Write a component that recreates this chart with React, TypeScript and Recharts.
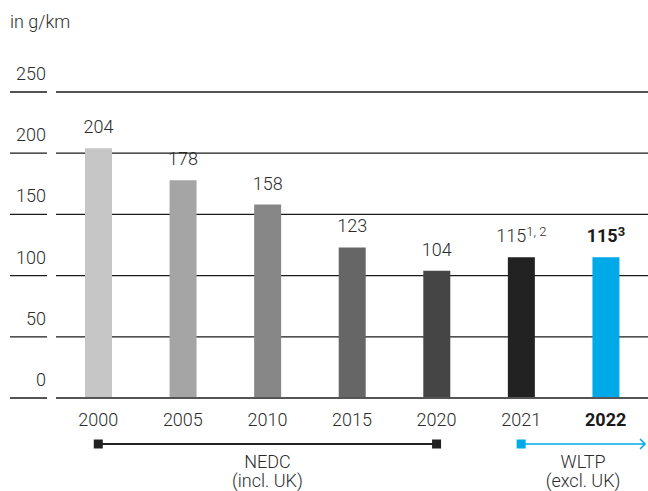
import { BarChart, Bar, XAxis, YAxis, CartesianGrid, Cell, LabelList, ReferenceLine } from 'recharts';

const years = ['2000', '2005', '2010', '2015', '2020', '2021', '2022'];
const values = [204, 178, 158, 123, 104, 115, 115];
const notes = ['', '', '', '', '', '1, 2', '3'];
const barColors = ['#c6c6c6', '#a5a5a5', '#878787', '#666666', '#454545', '#222222', '#00a9e8'];
const yTicks = [0, 50, 100, 150, 200, 250];

const data = years.map((year, i) => ({ year, value: values[i], note: notes[i] }));

const W = 648;
const H = 491;
const FONT = 'Roboto, "Noto Sans", sans-serif';
const TEXT = '#2b2b2b';
const FS = 18;
const LIGHT = 300;

const YTick = ({ y, payload }: any) => (
  <g>
    <line x1={10} x2={47} y1={y} y2={y} stroke={payload.value === 0 ? '#555' : '#1a1a1a'} strokeWidth={payload.value === 0 ? 2 : 1.3} />
    <text x={46} y={y - 12} textAnchor="end" fontSize={FS} fill={TEXT} fontWeight={LIGHT} fontFamily={FONT}>{payload.value}</text>
  </g>
);

const XTick = ({ x, y, payload }: any) => (
  <text x={x} y={y + 20} textAnchor="middle" fontSize={FS} fill={payload.value === '2022' ? '#1a1a1a' : TEXT}
    fontWeight={payload.value === '2022' ? 700 : LIGHT} fontFamily={FONT}>
    {payload.value}
  </text>
);

const ValueLabel = ({ x, y, width, value, index }: any) => {
  const note = notes[index];
  const bold = years[index] === '2022';
  return (
    <text x={x + width / 2} y={y - 15} textAnchor="middle" fontSize={FS} fill={bold ? '#1a1a1a' : TEXT}
      fontWeight={bold ? 700 : LIGHT} fontFamily={FONT}>
      {value}
      {note && <tspan fontSize={13} dy={-6}>{note}</tspan>}
    </text>
  );
};

const NedcBracket = ({ x1, x2, y1 }: any) => {
  const ly = y1 + 46;
  const mid = (x1 + x2) / 2;
  return (
    <g>
      <line x1={x1} x2={x2} y1={ly} y2={ly} stroke="#222" strokeWidth={2} />
      <rect x={x1 - 4.5} y={ly - 4.5} width={9} height={9} fill="#222" />
      <rect x={x2 - 4.5} y={ly - 4.5} width={9} height={9} fill="#222" />
      <text x={mid} y={ly + 24} textAnchor="middle" fontSize={FS} fill={TEXT} fontWeight={LIGHT} fontFamily={FONT}>NEDC</text>
      <text x={mid} y={ly + 43} textAnchor="middle" fontSize={FS} fill={TEXT} fontWeight={LIGHT} fontFamily={FONT}>(incl. UK)</text>
    </g>
  );
};

const WltpArrow = ({ x1, y1 }: any) => {
  const ly = y1 + 46;
  const end = W - 3;
  const mid = (x1 + end) / 2;
  return (
    <g>
      <line x1={x1} x2={end} y1={ly} y2={ly} stroke="#00a9e8" strokeWidth={1.5} />
      <polyline points={`${end - 5},${ly - 5} ${end},${ly} ${end - 5},${ly + 5}`} fill="none" stroke="#00a9e8" strokeWidth={1.5} />
      <rect x={x1 - 4.5} y={ly - 4.5} width={9} height={9} fill="#00a9e8" />
      <text x={mid} y={ly + 24} textAnchor="middle" fontSize={FS} fill={TEXT} fontWeight={LIGHT} fontFamily={FONT}>WLTP</text>
      <text x={mid} y={ly + 43} textAnchor="middle" fontSize={FS} fill={TEXT} fontWeight={LIGHT} fontFamily={FONT}>(excl. UK)</text>
    </g>
  );
};

export default function App() {
  return (
    <div style={{ position: 'absolute', left: 0, top: 0, width: W, height: H, background: '#fff', fontFamily: FONT }}>
      <div style={{ position: 'absolute', left: 10, top: 11, fontSize: FS, fontWeight: LIGHT, color: TEXT, zIndex: 1 }}>in g/km</div>
      <BarChart width={W} height={H} data={data} margin={{ top: 92, right: 0, left: 0, bottom: 63 }}>
        <CartesianGrid vertical={false} stroke="#1a1a1a" strokeWidth={1.3} />
        <YAxis width={56} domain={[0, 250]} ticks={yTicks} axisLine={false} tickLine={false} tick={<YTick />} />
        <XAxis dataKey="year" height={30} axisLine={{ stroke: '#555', strokeWidth: 2 }} tickLine={false} tick={<XTick />} interval={0} />
        <Bar dataKey="value" barSize={27} isAnimationActive={false}>
          {data.map((d, i) => <Cell key={d.year} fill={barColors[i]} />)}
          <LabelList dataKey="value" content={<ValueLabel />} />
        </Bar>
        <ReferenceLine segment={[{ x: '2000', y: 0 }, { x: '2020', y: 0 }]} ifOverflow="visible" shape={<NedcBracket />} />
        <ReferenceLine segment={[{ x: '2021', y: 0 }, { x: '2022', y: 0 }]} ifOverflow="visible" shape={<WltpArrow />} />
      </BarChart>
    </div>
  );
}
